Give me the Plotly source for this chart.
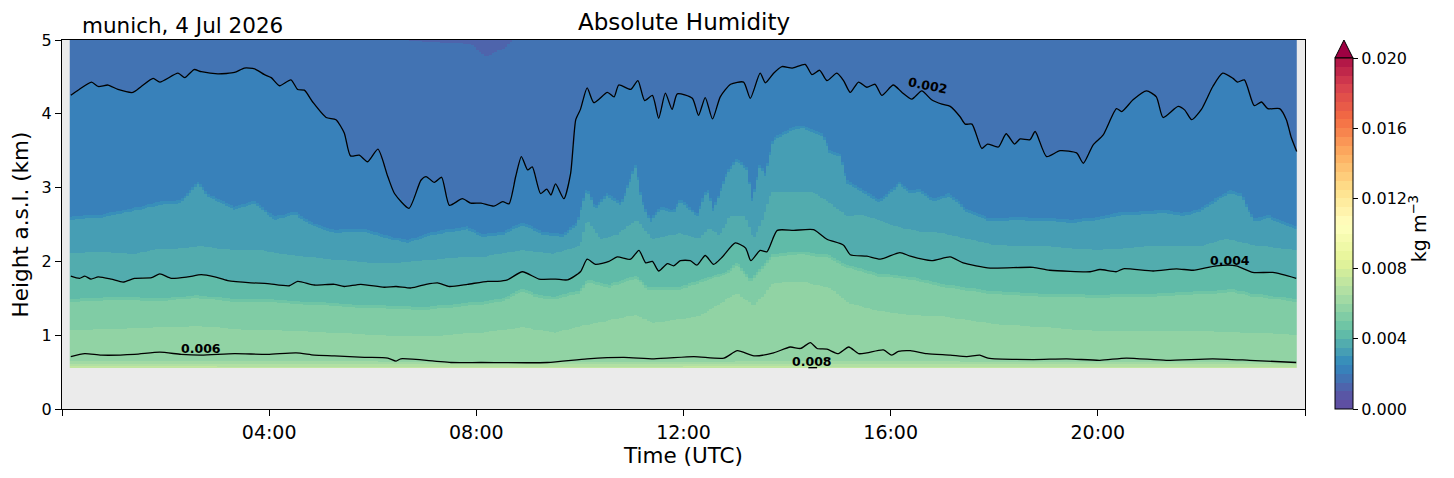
import numpy as np
import pandas as pd
import plotly.graph_objects as go
import plotly.express as px
from plotly.colors import sample_colorscale

SITE = "munich, 4 Jul 2026"
DAY = pd.Timestamp("2026-07-04")

# black isolines: time (hours UTC) and height (km a.s.l.)
T_002 = [0.17, 0.31, 0.57, 0.70, 0.89, 1.08, 1.37, 1.53, 1.76, 1.89,
         2.24, 2.37, 2.55, 2.69, 3.01, 3.33, 3.52, 3.72, 3.91, 4.04,
         4.20, 4.42, 4.55, 4.68, 4.84, 5.10, 5.29, 5.45, 5.57, 5.74,
         5.90, 6.10, 6.29, 6.42, 6.70, 6.93, 7.03, 7.19, 7.33, 7.48,
         7.73, 7.89, 8.09, 8.34, 8.51, 8.63, 8.76, 8.87, 8.99, 9.08,
         9.24, 9.36, 9.44, 9.53, 9.69, 9.82, 9.92, 10.01, 10.14, 10.27,
         10.53, 10.66, 10.75, 10.98, 11.12, 11.25, 11.40, 11.52, 11.65, 11.78,
         11.88, 12.17, 12.29, 12.42, 12.56, 12.71, 12.91, 13.16, 13.29, 13.48,
         13.58, 13.74, 13.90, 14.10, 14.35, 14.48, 14.63, 14.77, 14.96, 15.09,
         15.22, 15.38, 15.54, 15.70, 15.83, 16.05, 16.22, 16.41, 16.60, 16.79,
         16.99, 17.15, 17.34, 17.44, 17.57, 17.76, 17.87, 18.08, 18.23, 18.39,
         18.50, 18.69, 18.79, 19.01, 19.27, 19.59, 19.72, 19.91, 20.10, 20.36,
         20.46, 20.68, 20.94, 21.13, 21.26, 21.55, 21.68, 21.81, 22.00, 22.22,
         22.41, 22.61, 22.70, 22.83, 23.02, 23.16, 23.28, 23.51, 23.64, 23.73,
         23.84]
H_002 = [4.25, 4.32, 4.43, 4.37, 4.39, 4.33, 4.29, 4.37, 4.48, 4.43,
         4.55, 4.49, 4.60, 4.57, 4.54, 4.56, 4.62, 4.61, 4.53, 4.49,
         4.38, 4.46, 4.33, 4.32, 4.16, 3.95, 3.92, 3.74, 3.43, 3.44,
         3.35, 3.52, 3.15, 2.92, 2.72, 3.10, 3.15, 3.07, 3.14, 2.76,
         2.85, 2.79, 2.79, 2.75, 2.81, 2.78, 3.15, 3.42, 3.24, 3.28,
         2.92, 2.98, 2.90, 3.05, 2.85, 3.19, 3.92, 4.06, 4.35, 4.15,
         4.29, 4.23, 4.39, 4.33, 4.45, 4.18, 4.25, 3.94, 4.28, 4.06,
         4.27, 4.21, 3.98, 4.22, 3.93, 4.23, 4.40, 4.43, 4.21, 4.55,
         4.42, 4.55, 4.64, 4.62, 4.67, 4.53, 4.59, 4.45, 4.55, 4.45,
         4.29, 4.43, 4.36, 4.40, 4.25, 4.39, 4.29, 4.20, 4.31, 4.19,
         4.13, 4.10, 3.96, 3.86, 3.86, 3.53, 3.59, 3.55, 3.73, 3.59,
         3.66, 3.65, 3.76, 3.42, 3.50, 3.47, 3.33, 3.58, 3.71, 4.07,
         4.03, 4.19, 4.31, 4.23, 3.95, 4.10, 4.05, 3.92, 4.06, 4.37,
         4.55, 4.48, 4.43, 4.46, 4.11, 4.16, 4.07, 4.07, 3.92, 3.69,
         3.49]

T_004 = [0.17, 0.34, 0.44, 0.56, 0.70, 0.95, 1.18, 1.40, 1.73, 1.89,
         2.11, 2.43, 2.69, 2.95, 3.20, 3.65, 3.97, 4.39, 4.55, 4.87,
         5.26, 5.45, 5.77, 6.22, 6.45, 6.74, 7.03, 7.25, 7.48, 7.83,
         8.22, 8.41, 8.60, 8.89, 9.21, 9.53, 9.76, 10.01, 10.14, 10.30,
         10.56, 10.72, 10.98, 11.14, 11.27, 11.40, 11.52, 11.69, 11.81, 11.94,
         12.13, 12.26, 12.42, 12.58, 12.75, 13.00, 13.20, 13.30, 13.48, 13.61,
         13.81, 14.13, 14.51, 14.77, 15.09, 15.22, 15.54, 15.80, 16.18, 16.38,
         16.79, 17.15, 17.40, 17.92, 18.75, 19.07, 19.85, 20.04, 20.36, 20.49,
         21.07, 21.52, 21.84, 22.29, 22.67, 22.99, 23.38, 23.83]
H_004 = [1.80, 1.77, 1.80, 1.76, 1.79, 1.76, 1.72, 1.77, 1.78, 1.83,
         1.77, 1.79, 1.82, 1.79, 1.74, 1.71, 1.70, 1.67, 1.73, 1.68,
         1.69, 1.66, 1.69, 1.65, 1.66, 1.64, 1.69, 1.71, 1.66, 1.69,
         1.73, 1.73, 1.75, 1.86, 1.76, 1.76, 1.75, 1.86, 2.03, 1.96,
         2.00, 2.06, 2.03, 2.15, 1.98, 2.00, 1.87, 1.97, 1.94, 2.01,
         2.01, 1.95, 2.08, 1.96, 2.06, 2.25, 2.18, 2.01, 2.15, 2.13,
         2.42, 2.42, 2.43, 2.30, 2.22, 2.09, 2.07, 2.03, 2.12, 2.07,
         2.01, 2.06, 1.98, 1.91, 1.92, 1.88, 1.86, 1.89, 1.86, 1.90,
         1.87, 1.90, 1.88, 1.94, 1.94, 1.85, 1.85, 1.77]

T_006 = [0.17, 0.44, 0.76, 1.40, 1.89, 2.30, 2.69, 3.33, 3.97, 4.52,
         4.87, 5.26, 5.84, 6.29, 6.45, 6.54, 7.19, 7.51, 8.09, 9.37,
         10.14, 10.85, 11.43, 12.20, 12.78, 13.04, 13.36, 13.74, 14.06, 14.26,
         14.45, 14.58, 14.77, 14.99, 15.19, 15.38, 15.54, 15.86, 16.02, 16.15,
         16.38, 16.70, 17.15, 17.47, 17.72, 17.88, 18.75, 19.40, 20.04, 20.55,
         21.32, 22.22, 22.93, 23.83]
H_006 = [0.71, 0.75, 0.73, 0.74, 0.77, 0.74, 0.73, 0.75, 0.74, 0.76,
         0.73, 0.72, 0.70, 0.69, 0.65, 0.68, 0.65, 0.63, 0.63, 0.63,
         0.68, 0.70, 0.68, 0.71, 0.69, 0.79, 0.72, 0.76, 0.84, 0.82,
         0.90, 0.82, 0.81, 0.75, 0.84, 0.75, 0.76, 0.80, 0.73, 0.78,
         0.79, 0.75, 0.73, 0.71, 0.73, 0.69, 0.67, 0.68, 0.66, 0.69,
         0.66, 0.68, 0.66, 0.63]

T_008 = [14.41, 14.58]
H_008 = [0.56, 0.56]

# heights where the filled field crosses other levels (kg m-3)
T_0015 = [0.0, 6.55, 6.70, 7.00, 7.50, 7.90, 8.05, 8.20, 8.40, 8.55, 8.70, 8.80, 24.0]
H_0015 = [5.50, 5.50, 4.99, 4.97, 4.96, 4.95, 4.85, 4.77, 4.85, 4.89, 4.99, 5.50, 5.50]

T_0030 = [0.15, 0.76, 1.53, 1.86, 2.30, 2.63, 2.82, 3.33, 3.72, 4.10,
          4.49, 4.87, 5.26, 5.80, 6.30, 6.67, 7.19, 7.83, 8.10, 8.50,
          8.90, 9.30, 9.70, 9.95, 10.14, 10.30, 10.53, 10.80, 11.08, 11.20,
          11.36, 11.56, 11.81, 11.94, 12.27, 12.46, 12.58, 12.85, 13.04, 13.23,
          13.33, 13.48, 13.58, 13.74, 14.13, 14.31, 14.51, 14.70, 14.83, 15.03,
          15.16, 15.28, 15.80, 16.18, 16.37, 16.57, 16.82, 17.15, 17.47, 17.92,
          18.44, 19.07, 19.52, 20.04, 20.36, 20.68, 21.33, 21.65, 21.97, 22.29,
          22.54, 22.80, 22.89, 23.02, 23.31, 23.83]
H_0030 = [2.56, 2.59, 2.70, 2.76, 2.79, 3.04, 2.87, 2.70, 2.78, 2.56,
          2.63, 2.47, 2.38, 2.40, 2.30, 2.25, 2.36, 2.43, 2.33, 2.35,
          2.49, 2.35, 2.33, 2.50, 2.97, 2.70, 2.88, 2.75, 3.28, 2.80,
          2.52, 2.70, 2.65, 2.81, 2.60, 2.97, 2.67, 3.19, 3.35, 3.24,
          2.79, 3.28, 3.15, 3.64, 3.78, 3.80, 3.74, 3.69, 3.46, 3.42,
          3.06, 3.01, 2.79, 3.04, 2.92, 2.94, 2.81, 2.88, 2.67, 2.54,
          2.56, 2.54, 2.52, 2.56, 2.61, 2.63, 2.65, 2.61, 2.67, 2.81,
          2.92, 2.88, 2.70, 2.54, 2.58, 2.43]

T_0035 = [0.15, 0.76, 1.40, 1.73, 2.37, 2.69, 3.33, 3.85, 4.30, 4.94,
          5.58, 6.22, 6.87, 7.51, 8.15, 8.90, 9.50, 10.00, 10.14, 10.40,
          10.70, 11.10, 11.40, 11.94, 12.30, 12.50, 12.70, 12.90, 13.20, 13.35,
          13.50, 13.70, 14.10, 14.50, 14.83, 15.16, 15.50, 15.80, 16.20, 16.60,
          17.00, 17.50, 18.00, 19.00, 20.00, 21.00, 22.00, 22.50, 23.00, 23.83]
H_0035 = [2.11, 2.12, 2.10, 2.15, 2.18, 2.20, 2.15, 2.15, 2.09, 2.04,
          2.00, 1.97, 2.00, 2.04, 2.06, 2.15, 2.10, 2.20, 2.56, 2.30,
          2.35, 2.56, 2.30, 2.38, 2.30, 2.45, 2.35, 2.61, 2.61, 2.30,
          2.50, 2.94, 2.94, 2.94, 2.79, 2.61, 2.62, 2.55, 2.45, 2.40,
          2.38, 2.30, 2.22, 2.20, 2.15, 2.20, 2.20, 2.30, 2.22, 2.15]

T_0050 = [0.15, 1.00, 2.00, 2.60, 3.30, 4.00, 5.00, 6.00, 7.00, 8.09,
          8.50, 8.89, 9.20, 9.53, 10.01, 10.14, 10.56, 11.10, 11.30, 11.94,
          12.50, 12.85, 13.04, 13.30, 13.74, 14.30, 14.83, 15.16, 15.80, 16.40,
          17.00, 18.00, 19.00, 20.00, 21.00, 22.00, 22.60, 23.00, 23.83]
H_0050 = [1.45, 1.47, 1.46, 1.50, 1.45, 1.44, 1.40, 1.36, 1.34, 1.41,
          1.45, 1.59, 1.50, 1.48, 1.57, 1.71, 1.64, 1.77, 1.61, 1.61,
          1.75, 1.82, 1.95, 1.71, 2.06, 2.09, 2.04, 1.91, 1.79, 1.75,
          1.65, 1.55, 1.52, 1.50, 1.52, 1.55, 1.58, 1.52, 1.45]

T_0055 = [0.15, 1.00, 2.00, 2.60, 3.30, 4.00, 5.00, 6.00, 7.00, 8.09,
          8.90, 9.53, 10.14, 11.10, 11.40, 12.30, 13.04, 13.36, 13.74, 14.30,
          14.83, 15.20, 15.70, 16.20, 17.00, 18.00, 19.00, 20.00, 21.00, 22.00,
          23.00, 23.83]
H_0055 = [1.07, 1.08, 1.10, 1.12, 1.08, 1.06, 1.04, 1.00, 0.98, 1.03,
          1.10, 1.03, 1.14, 1.27, 1.16, 1.25, 1.57, 1.39, 1.70, 1.72,
          1.64, 1.43, 1.34, 1.28, 1.25, 1.15, 1.10, 1.05, 1.05, 1.05,
          1.03, 1.00]

T_LOW = [0.15, 3.0, 6.0, 9.0, 12.0, 14.5, 17.0, 20.0, 23.85]
H_0060 = [0.645, 0.645, 0.635, 0.625, 0.630, 0.640, 0.635, 0.630, 0.625]
H_0065 = [0.605, 0.600, 0.600, 0.595, 0.600, 0.605, 0.600, 0.600, 0.595]
H_0070 = [0.575, 0.575, 0.570, 0.570, 0.575, 0.575, 0.570, 0.570, 0.570]

SURFACE_KM, SURFACE_AH = 0.55, 0.0074
TOP_KM, TOP_AH = 6.0, 0.0010

CBAR_TICKS = [0.0, 0.004, 0.008, 0.012, 0.016, 0.020]
HOUR_TICKS = [0, 4, 8, 12, 16, 20, 24]
HOUR_LABELS = ["", "04:00", "08:00", "12:00", "16:00", "20:00", ""]

FONT = "DejaVu Sans"

# --- build the gridded field from the level heights ---
hours = 0.175 + 0.05 * np.arange(474)
heights = 0.555 + 0.01 * np.arange(445)

# (level, times, heights, lift): the 0.0025 and 0.0045 crossings sit just
# above the next level down, their bands are hardly visible in the chart
edges = [
    (SURFACE_AH, None, None, 0),
    (0.0070, T_LOW, H_0070, 0),
    (0.0065, T_LOW, H_0065, 0),
    (0.0060, T_LOW, H_0060, 0),
    (0.0055, T_0055, H_0055, 0),
    (0.0050, T_0050, H_0050, 0),
    (0.0045, T_0050, H_0050, 0.04),
    (0.0040, T_004, H_004, 0),
    (0.0035, T_0035, H_0035, 0),
    (0.0030, T_0030, H_0030, 0),
    (0.0025, T_0030, H_0030, 0.04),
    (0.0020, T_002, H_002, 0),
    (0.0015, T_0015, H_0015, 0),
    (TOP_AH, None, None, 0),
]
values = np.array([e[0] for e in edges])
xp = []
for val, tt, hh, lift in edges:
    if tt is None:
        km = SURFACE_KM if val == SURFACE_AH else TOP_KM
        xp.append(np.full(hours.size, km))
    else:
        xp.append(np.interp(hours, tt, hh) + lift)
xp = np.maximum.accumulate(np.array(xp), axis=0)
xp += np.arange(len(edges))[:, None] * 1e-6

z = np.empty((heights.size, hours.size))
for j in range(hours.size):
    z[:, j] = np.interp(heights, xp[:, j], values)
z = np.round(z, 6)

times = DAY + pd.to_timedelta(hours, unit="h")

# contourf-like stepped colours, 0.0005 per band
SPECTRAL_R = px.colors.diverging.Spectral_r
band_cols = sample_colorscale(SPECTRAL_R, [max(k - 0.5, 0) / 40 for k in range(40)])
cscale = []
for k, c in enumerate(band_cols):
    cscale += [[k / 40, c], [(k + 1) / 40, c]]
over_col = sample_colorscale(SPECTRAL_R, [1.0])[0]

fig = go.Figure()
fig.add_trace(go.Heatmap(
    x=times, y=heights, z=z,
    zmin=0, zmax=0.02, colorscale=cscale, zsmooth=False,
    hoverinfo="skip",
    colorbar=dict(
        x=1.0241, xanchor="left", xpad=0,
        y=0, yanchor="bottom", ypad=0,
        len=351, lenmode="pixels", thickness=18,
        outlinewidth=1, outlinecolor="black",
        tickvals=CBAR_TICKS, tickformat=".3f",
        ticks="outside", ticklen=5, tickcolor="black",
        tickfont=dict(family=FONT, size=16, color="black"),
    ),
))

for tt, hh in [(T_002, H_002), (T_004, H_004), (T_006, H_006), (T_008, H_008)]:
    fig.add_trace(go.Scatter(
        x=DAY + pd.to_timedelta(tt, unit="h"), y=hh, mode="lines",
        line=dict(color="black", width=1.3, shape="spline", smoothing=0.6),
        hoverinfo="skip", showlegend=False,
    ))

# inline contour labels
for txt, hr, km, ang in [("0.002", 16.72, 4.39, 11), ("0.004", 22.55, 2.01, 0),
                         ("0.006", 2.69, 0.82, 0), ("0.008", 14.49, 0.64, 0)]:
    fig.add_annotation(x=DAY + pd.Timedelta(hours=hr), y=km, text=f"<b>{txt}</b>",
                       showarrow=False, textangle=ang,
                       font=dict(family=FONT, size=12.5, color="black"))

fig.add_annotation(x=0.5, y=1, xref="paper", yref="paper", yanchor="bottom",
                   yshift=3, text="Absolute Humidity", showarrow=False,
                   font=dict(family=FONT, size=23, color="black"))
fig.add_annotation(x=0.0145, y=1, xref="paper", yref="paper", xanchor="left",
                   yanchor="bottom", yshift=0, text=SITE, showarrow=False,
                   font=dict(family=FONT, size=21.5, color="black"))
fig.add_annotation(x=1.0909, y=0.49, xref="paper", yref="paper", textangle=-90,
                   xanchor="center", yanchor="middle",
                   text="kg m<sup>−3</sup>", showarrow=False,
                   font=dict(family=FONT, size=19, color="black"))

# extend-max arrow on top of the colour bar
x0, x1 = 1.0241, 1.0386
fig.add_shape(type="path", xref="paper", yref="paper",
              path=f"M {x0},0.9512 L {x1},0.9512 L {(x0 + x1) / 2},1.0 Z",
              fillcolor=over_col, line=dict(color="black", width=1))

fig.update_xaxes(
    range=[DAY, DAY + pd.Timedelta(hours=24)], automargin=False,
    tickvals=[DAY + pd.Timedelta(hours=h) for h in HOUR_TICKS], ticktext=HOUR_LABELS,
    ticks="outside", ticklen=6, tickwidth=1.2, tickcolor="black",
    showline=True, linecolor="black", linewidth=1.2, mirror=True,
    showgrid=False, zeroline=False,
    tickfont=dict(family=FONT, size=19, color="black"),
    title=dict(text="Time (UTC)", font=dict(family=FONT, size=21.5, color="black"), standoff=6),
)
fig.update_yaxes(
    range=[0, 5], tickvals=[0, 1, 2, 3, 4, 5], automargin=False,
    ticks="outside", ticklen=6, tickwidth=1.2, tickcolor="black",
    showline=True, linecolor="black", linewidth=1.2, mirror=True,
    showgrid=False, zeroline=False,
    tickfont=dict(family=FONT, size=16, color="black"),
    title=dict(text="Height a.s.l. (km)", font=dict(family=FONT, size=21.5, color="black"), standoff=12),
)

# page body adds an 8 px offset, so the figure is drawn 8 px smaller
fig.update_layout(
    width=1446, height=470, autosize=False,
    margin=dict(l=54, r=149, t=32, b=69),
    plot_bgcolor="#ebebeb", paper_bgcolor="white",
    showlegend=False,
)

fig.write_html("out.html")
